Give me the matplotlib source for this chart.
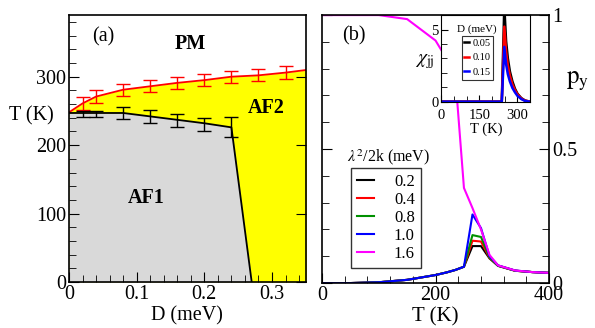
import matplotlib
matplotlib.use("Agg")
import matplotlib.pyplot as plt
from matplotlib.ticker import MultipleLocator

plt.rcParams["font.family"] = "serif"
plt.rcParams["font.serif"] = ["Liberation Serif", "DejaVu Serif"]
plt.rcParams["mathtext.fontset"] = "stix"

# ---- panel (a): phase diagram ----
d_pm = [0, 0.02, 0.04, 0.08, 0.12, 0.16, 0.20, 0.24, 0.28, 0.32, 0.36]
t_pm = [248, 261, 271, 281, 286, 291, 295, 300, 302, 306, 311]
d_pm_err = [0.02, 0.04, 0.08, 0.12, 0.16, 0.20, 0.24, 0.28, 0.32]
t_pm_err = [261, 271, 281, 286, 291, 295, 300, 302, 306]
e_pm = [9, 9, 9, 9, 9, 9, 9, 9, 9]

d_af1 = [0, 0.02, 0.04, 0.08, 0.12, 0.16, 0.20, 0.24, 0.27]
t_af1 = [247, 247, 247, 247, 242, 237, 232, 226, 0]
d_af1_err = [0.02, 0.04, 0.08, 0.12, 0.16, 0.20, 0.24]
t_af1_err = [246, 246, 247, 242, 236, 230, 226]
e_af1 = [4.5, 4.5, 9, 9, 9, 9, 14.5]

# ---- panel (b): p_y vs T ----
temps = [0, 50, 100, 150, 200, 220, 235, 250, 265, 280, 295, 310, 340, 370, 400]
lam_labels = ["0.2", "0.4", "0.8", "1.0", "1.6"]
py_02 = [0, 0, 0.003, 0.012, 0.03, 0.04, 0.049, 0.061, 0.138, 0.138, 0.092, 0.064, 0.046, 0.041, 0.038]
py_04 = [0, 0, 0.003, 0.012, 0.03, 0.04, 0.049, 0.061, 0.158, 0.155, 0.094, 0.065, 0.046, 0.041, 0.038]
py_08 = [0, 0, 0.003, 0.012, 0.03, 0.04, 0.049, 0.061, 0.179, 0.172, 0.096, 0.065, 0.046, 0.041, 0.038]
py_10 = [0, 0, 0.003, 0.012, 0.03, 0.04, 0.049, 0.061, 0.256, 0.205, 0.100, 0.066, 0.047, 0.041, 0.038]
py_16 = [1.0, 1.0, 1.0, 0.985, 0.905, 0.835, 0.765, 0.355, 0.28, 0.20, 0.105, 0.066, 0.047, 0.041, 0.038]
py_series = [py_02, py_04, py_08, py_10, py_16]
py_colors = ["black", "red", "#009000", "blue", "magenta"]

# ---- inset: chi_jj vs T ----
t_ins = [0, 150, 238, 248, 255, 262, 270, 280, 290, 300, 315, 330, 345]
chi_005 = [0, 0, 0, 6.6, 4.2, 3.0, 2.1, 1.4, 0.9, 0.55, 0.25, 0.08, 0.02]
chi_010 = [0, 0, 0, 5.2, 3.5, 2.5, 1.8, 1.2, 0.8, 0.5, 0.22, 0.07, 0.02]
chi_015 = [0, 0, 0, 3.8, 2.6, 1.9, 1.4, 0.95, 0.65, 0.4, 0.18, 0.05, 0.01]
d_labels = ["0.05", "0.10", "0.15"]

FS = 14.5

fig = plt.figure(figsize=(5.95, 3.28), dpi=100)

axa = fig.add_axes([0.116, 0.140, 0.398, 0.814])
axa.fill_between(d_pm, 0, t_pm, color="#ffff00", lw=0)
axa.fill_between(d_af1, 0, t_af1, color="#d9d9d9", lw=0)
axa.plot(d_pm, t_pm, color="red", lw=1.3)
axa.plot(d_af1, t_af1, color="black", lw=1.3)
axa.errorbar(d_pm_err, t_pm_err, yerr=e_pm, fmt="none", ecolor="red",
             elinewidth=1, capsize=4.7, capthick=1)
axa.errorbar(d_af1_err, t_af1_err, yerr=e_af1, fmt="none", ecolor="black",
             elinewidth=1, capsize=4.7, capthick=1)
axa.set_xlim(0, 0.35)
axa.set_ylim(0, 390)
axa.xaxis.set_major_locator(MultipleLocator(0.1))
axa.xaxis.set_minor_locator(MultipleLocator(0.02))
axa.yaxis.set_major_locator(MultipleLocator(100))
axa.yaxis.set_minor_locator(MultipleLocator(20))
axa.tick_params(which="both", direction="in", labelsize=FS, right=True, pad=2)
axa.tick_params(which="major", length=7)
axa.tick_params(which="minor", length=5, right=False)
axa.xaxis.set_major_formatter(plt.FuncFormatter(lambda v, p: "0" if abs(v) < 1e-9 else f"{v:.1f}"))
axa.set_xlabel("D (meV)", fontsize=FS, labelpad=2)
fig.text(0.015, 0.648, "T (K)", fontsize=FS, va="center")
axa.text(0.034, 372, "(a)", fontsize=FS, va="top")
axa.text(0.180, 348, "PM", fontsize=FS, weight="bold", ha="center", va="center")
axa.text(0.292, 255, "AF2", fontsize=FS, weight="bold", ha="center", va="center")
axa.text(0.114, 123, "AF1", fontsize=FS, weight="bold", ha="center", va="center")
for s in axa.spines.values():
    s.set_linewidth(1.2)

axb = fig.add_axes([0.541, 0.137, 0.382, 0.817])
for vals, col, lab in zip(py_series, py_colors, lam_labels):
    axb.plot(temps, vals, color=col, lw=1.5, label=lab)
axb.set_xlim(0, 400)
axb.set_ylim(0, 1)
axb.xaxis.set_major_locator(MultipleLocator(200))
axb.xaxis.set_minor_locator(MultipleLocator(40))
axb.yaxis.set_major_locator(MultipleLocator(0.5))
axb.yaxis.set_minor_locator(MultipleLocator(0.1))
axb.tick_params(which="both", direction="in", labelsize=FS, left=True, right=True,
                labelleft=False, labelright=True, pad=2)
axb.tick_params(which="major", length=7)
axb.tick_params(which="minor", length=5)
axb.yaxis.set_major_formatter(plt.FuncFormatter(lambda v, p: f"{v:g}"))
axb.set_xlabel("T (K)", fontsize=15, labelpad=2)
fig.text(0.951, 0.752, r"$\mathrm{p_y}$", fontsize=18, va="center")
axb.text(35, 0.96, "(b)", fontsize=FS, va="top")
for s in axb.spines.values():
    s.set_linewidth(1.2)
leg = axb.legend(loc="upper left", bbox_to_anchor=(0.13, 0.43), fontsize=12,
                 frameon=True, fancybox=False, edgecolor="black",
                 handlelength=1.0, handletextpad=1.2, labelspacing=0.12,
                 borderpad=0.35, borderaxespad=0)
leg.get_frame().set_linewidth(1.0)
axb.text(0.11, 0.455, r"$\lambda^2$/2k (meV)", transform=axb.transAxes, fontsize=11.5)

axi = fig.add_axes([0.742, 0.690, 0.149, 0.264])
for vals, col, lab in zip([chi_005, chi_010, chi_015], ["black", "red", "blue"], d_labels):
    axi.plot(t_ins, vals, color=col, lw=1.8, label=lab)
axi.set_xlim(0, 350)
axi.set_ylim(0, 6)
axi.xaxis.set_major_locator(MultipleLocator(150))
axi.xaxis.set_minor_locator(MultipleLocator(50))
axi.yaxis.set_major_locator(MultipleLocator(5))
axi.yaxis.set_minor_locator(MultipleLocator(1))
axi.tick_params(which="both", direction="in", labelsize=10.5, pad=2)
axi.tick_params(axis="x", which="both", pad=5)
axi.tick_params(which="major", length=5)
axi.tick_params(which="minor", length=4)
axi.set_xlabel("T (K)", fontsize=10.5, labelpad=1)
fig.text(425 / 595, 1 - 62 / 328, r"$\chi_{\mathrm{jj}}$", fontsize=14, ha="center", va="center")
leg2 = axi.legend(loc="upper left", bbox_to_anchor=(0.226, 0.758), fontsize=7.5,
                  frameon=True, fancybox=False, edgecolor="black",
                  handlelength=0.5, handletextpad=0.3, labelspacing=0.5,
                  borderpad=0.25, borderaxespad=0)
leg2.get_frame().set_linewidth(0.8)
axi.text(0.40, 0.835, "D (meV)", transform=axi.transAxes, fontsize=8, ha="center", va="center")

fig.savefig("out.png", dpi=100)
